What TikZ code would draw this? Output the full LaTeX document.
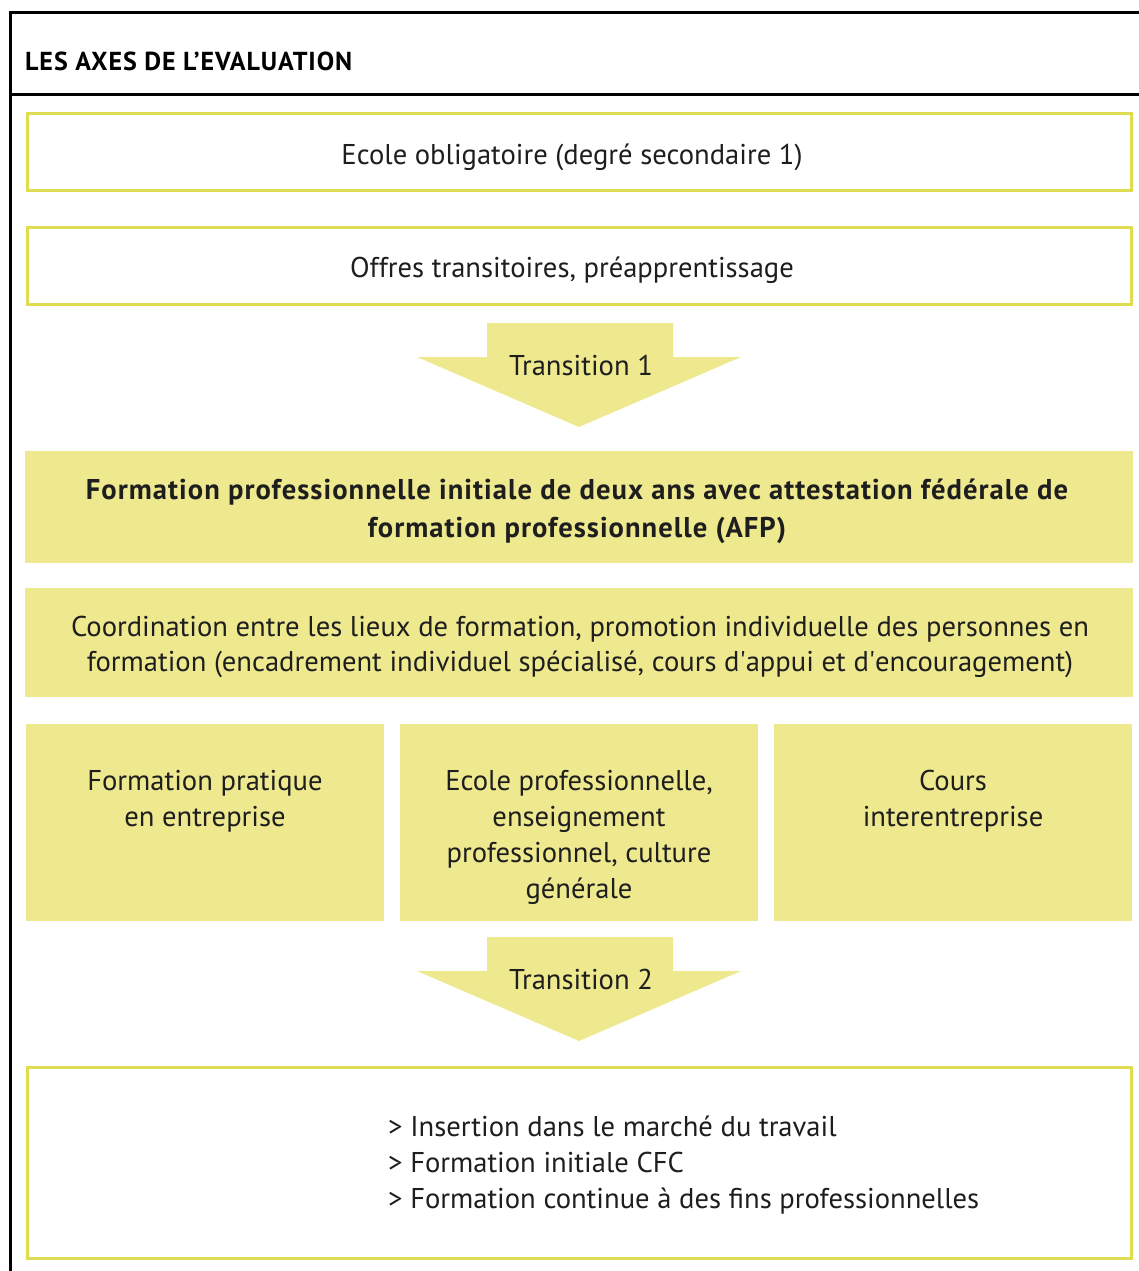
\documentclass[tikz,border=0pt]{standalone}
\usepackage{fontspec}
\setmainfont{PT Sans}
\newfontfamily\boldtrack[LetterSpace=3.6]{PT Sans Bold}
\newfontfamily\plainq{PT Sans}
\newcommand{\sq}{{\plainq\char39}}
\definecolor{pale}{HTML}{EEE98F}
\definecolor{edgey}{HTML}{DFDC52}
\definecolor{ink}{HTML}{1E1E1E}
\begin{document}
\begin{tikzpicture}[x=1pt,y=-1pt,
  wbox/.style={draw=edgey, line width=3.5pt, fill=white, minimum width=1104pt, minimum height=77pt, inner sep=0pt},
  ybox/.style={fill=pale, inner sep=0pt},
  txt/.style={font=\fontsize{28.6}{36}\selectfont, text=ink, align=center, inner sep=0pt},
  arrowshape/.style={fill=pale}]
\useasboundingbox (0,0) rectangle (1139,1271);
% frame
\draw[line width=3pt] (10,1271) -- (10,13) -- (1139,13);
\draw[line width=3pt] (10,95) -- (1139,95);
\node[anchor=base west, inner sep=0pt, text=black, font=\boldtrack\fontsize{26}{30}\selectfont] (title) at (25,71) {LES AXES DE L’EVALUATION};
% white boxes
\node[wbox] (ecole) at (579.5,152) {};
\node[txt] (t_ecole) at (572,157) {Ecole obligatoire (degré secondaire 1)};
\node[wbox] (offres) at (579.5,266) {};
\node[txt] (t_offres) at (572,270) {Offres transitoires, préapprentissage};
% arrow 1
\fill[arrowshape] (487,323) -- (673,323) -- (673,357) -- (741,357) -- (579,427) -- (417,357) -- (487,357) -- cycle;
\node[txt] (t1) at (581,365) {Transition 1};
% AFP
\node[ybox, minimum width=1108pt, minimum height=112pt] (afpbox) at (579,507) {};
\node[txt, font=\boldtrack\fontsize{28.6}{38}\selectfont] (afp) at (577,511) {Formation professionnelle initiale de deux ans avec attestation fédérale de\\formation professionnelle (AFP)};
% coordination
\node[ybox, minimum width=1108pt, minimum height=109pt] (coordbox) at (579,642.5) {};
\node[txt, font=\fontsize{28.6}{35}\selectfont] (coord) at (580,647) {Coordination entre les lieux de formation, promotion individuelle des personnes en\\formation (encadrement individuel spécialisé, cours d\sq appui et d\sq encouragement)};
% three boxes
\node[ybox, minimum width=358pt, minimum height=197pt] (b1) at (205,822.5) {};
\node[ybox, minimum width=358pt, minimum height=197pt] (b2) at (579,822.5) {};
\node[ybox, minimum width=358pt, minimum height=197pt] (b3) at (953,822.5) {};
\node[txt, anchor=north] (t_b1) at (205,770) {Formation pratique\\en entreprise};
\node[txt, anchor=north] (t_b2) at (579,770) {Ecole professionnelle,\\enseignement\\professionnel, culture\\générale};
\node[txt, anchor=north] (t_b3) at (953,770) {Cours\\interentreprise};
% arrow 2
\fill[arrowshape] (487,937) -- (673,937) -- (673,971) -- (741,971) -- (579,1041) -- (417,971) -- (487,971) -- cycle;
\node[txt] (t2) at (581,979) {Transition 2};
% bottom box
\node[wbox, minimum height=191pt] (outbox) at (579.5,1163) {};
\node[txt, align=left, anchor=north west] (out) at (388,1116) {> Insertion dans le marché du travail\\> Formation initiale CFC\\> Formation continue à des fins professionnelles};
\end{tikzpicture}
\end{document}
